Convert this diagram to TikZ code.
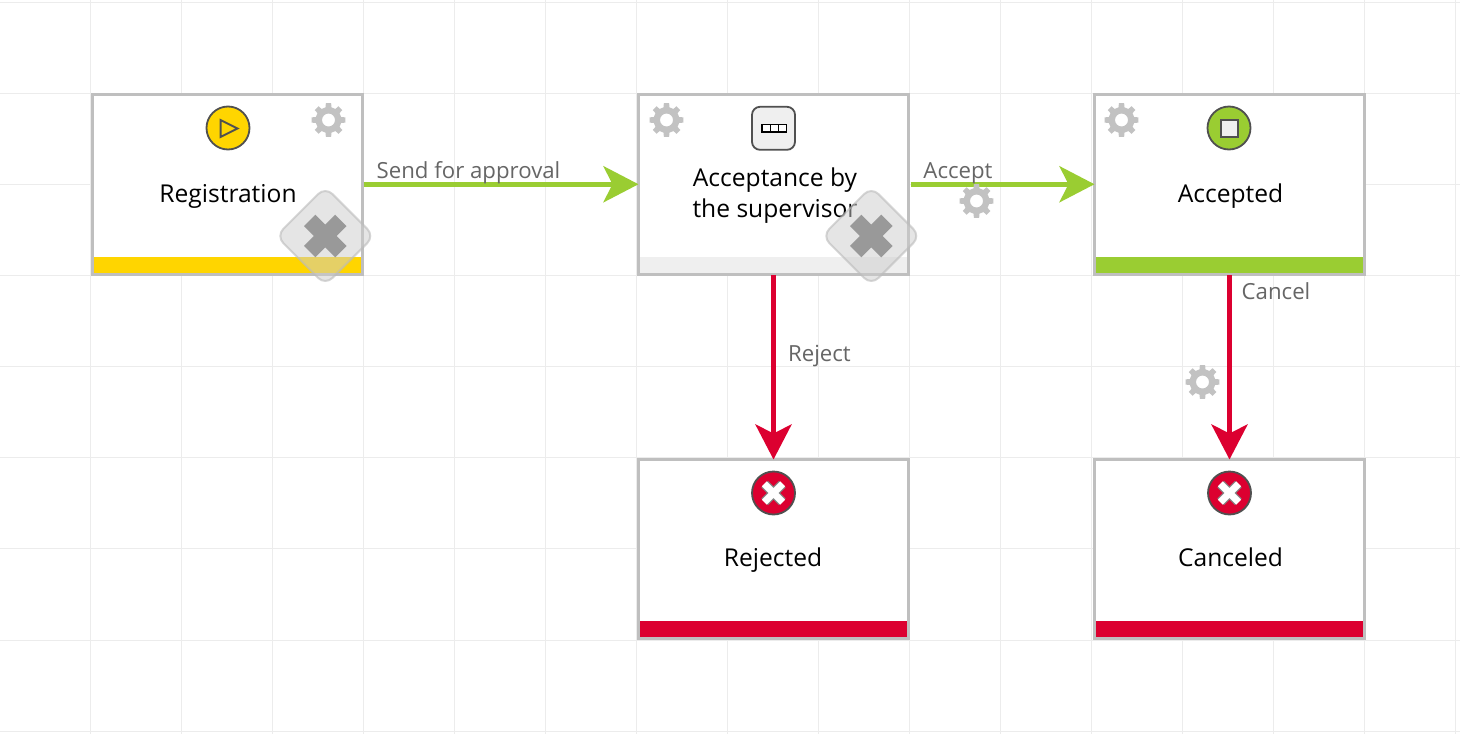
\documentclass[tikz,border=0pt]{standalone}
\usepackage{fontspec}
\setmainfont{Open Sans}
\usetikzlibrary{arrows.meta}
\definecolor{gridc}{HTML}{ECECEC}
\definecolor{borderc}{HTML}{BFBFBF}
\definecolor{gearc}{HTML}{C2C2C2}
\definecolor{iconline}{HTML}{505050}
\definecolor{yel}{HTML}{FFD500}
\definecolor{grn}{HTML}{9ACD32}
\definecolor{rd}{HTML}{DC0030}
\definecolor{lightbar}{HTML}{EFEFEF}
\definecolor{tilefill}{HTML}{CCCCCC}
\definecolor{tileline}{HTML}{BBBBBB}
\definecolor{tilex}{HTML}{999999}
\tikzset{
  x=1pt,y=-1pt,
  taskbox/.style={draw=borderc,fill=white,line width=3pt,minimum width=270pt,minimum height=180pt,outer sep=0pt,inner sep=0pt},
  tasklabel/.style={font=\fontsize{24.6}{31}\selectfont,text=black,align=center,inner sep=0pt,anchor=base},
  edgelabel/.style={font=\fontsize{22.2}{27}\selectfont,text=black!60,inner sep=0pt,anchor=base},
  greenline/.style={draw=grn,line width=5pt,-{Stealth[length=35pt,width=36pt,inset=9pt,fill=grn]}},
  redline/.style={draw=rd,line width=5.3pt,-{Stealth[length=35pt,width=36pt,inset=9pt,fill=rd]}},
  iconcirc/.style={circle,draw=iconline,line width=1.8pt,minimum size=43pt,inner sep=0pt,outer sep=0pt},
  geartile/.pic={
    \fill[gearc,even odd rule] (90-13:13)
      \foreach \a in {0,45,...,315}{
        -- ({90+\a-13}:13) -- ({90+\a-9}:17) -- ({90+\a+9}:17) -- ({90+\a+13}:13)
      } -- cycle (0,0) circle (6.5);
  },
  removetile/.pic={
    \draw[rotate=45,draw=tileline,fill=tilefill,fill opacity=.5,draw opacity=.6,line width=2pt,rounded corners=10pt]
      (-34.7,-34.7) rectangle (34.7,34.7);
    \draw[line width=16pt,draw=tilex] (-15.6,-15.6) -- (15.6,15.6) (-15.6,15.6) -- (15.6,-15.6);
  },
  failx/.pic={
    \draw[line width=9.5pt,draw=iconline!70] (-8.8,-8.8) -- (8.8,8.8) (-8.8,8.8) -- (8.8,-8.8);
    \draw[line width=7pt,draw=white] (-9.2,-9.2) -- (9.2,9.2) (-9.2,9.2) -- (9.2,-9.2);
  }
}
\begin{document}
\begin{tikzpicture}
\useasboundingbox (0,0) rectangle (1460,734);
\fill[white] (0,0) rectangle (1460,734);
% grid
\foreach \i in {0,...,15} \draw[gridc,line width=1pt] ({90.5+91*\i},0) -- ({90.5+91*\i},734);
\foreach \i in {0,...,8} \draw[gridc,line width=1pt] (0,{2.3+91.1*\i}) -- (1460,{2.3+91.1*\i});
% boxes
\node[taskbox] (registration) at (227.5,184.25) {};
\node[taskbox] (acceptance) at (773.5,184.25) {};
\node[taskbox] (accepted) at (1229.5,184.25) {};
\node[taskbox,minimum height=179pt] (rejected) at (773.5,549) {};
\node[taskbox,minimum height=179pt] (canceled) at (1229.5,549) {};
% status bars
\fill[yel] (94,257) rectangle (361,272.7);
\fill[lightbar] (640,257) rectangle (907,272.7);
\fill[grn] (1096,257) rectangle (1363,272.7);
\fill[rd] (640,621) rectangle (907,637);
\fill[rd] (1096,621) rectangle (1363,637);
% connectors
\draw[greenline] ([xshift=1pt]registration.east) -- (acceptance.west);
\draw[greenline] ([xshift=2pt]acceptance.east) -- (accepted.west);
\draw[redline] ([yshift=-1pt]acceptance.south) -- (rejected.north);
\draw[redline] ([yshift=-1pt]accepted.south) -- (canceled.north);
% connector labels
\node[edgelabel] (lsend) at (468.5,178.5) {Send for approval};
\node[edgelabel] (laccept) at (958,178.5) {Accept};
\node[edgelabel] (lreject) at (819.5,361) {Reject};
\node[edgelabel] (lcancel) at (1276,299.5) {Cancel};
% task labels
\node[tasklabel] (tregistration) at (228,202.3) {Registration};
\node[tasklabel] (tacceptance) at (775,217) {Acceptance by\\the supervisor};
\node[tasklabel] (taccepted) at (1230.5,202.3) {Accepted};
\node[tasklabel] (trejected) at (773,566.5) {Rejected};
\node[tasklabel] (tcanceled) at (1230.5,566.5) {Canceled};
% icons
\node[iconcirc,fill=yel] (istart) at (228,128) {};
\draw[draw=iconline,fill=yel,line width=2pt,line join=miter] (220.5,120) -- (237.5,128.5) -- (220.5,137) -- cycle;
\node[iconcirc,fill=lightbar,rectangle,rounded corners=8pt] (iprocess) at (773.5,128.3) {};
\draw[black,fill=white,line width=1.6pt] (762,124.5) rectangle (786.5,132);
\draw[black,line width=1.4pt] (770.2,124.5) -- (770.2,132) (778.4,124.5) -- (778.4,132);
\node[iconcirc,fill=grn] (istop) at (1229,128) {};
\draw[draw=iconline,fill=black!6,line width=2pt] (1220.5,119.5) rectangle (1237.5,136.5);
\node[iconcirc,fill=rd] (irej) at (773.5,493) {};
\pic at (773.5,493) {failx};
\node[iconcirc,fill=rd] (ican) at (1229.5,493) {};
\pic at (1229.5,493) {failx};
% gears
\pic at (328.5,120) {geartile};
\pic at (666.5,120) {geartile};
\pic at (1121.5,120) {geartile};
\pic at (976.5,201) {geartile};
\pic at (1202.5,382) {geartile};
% remove tiles
\pic at (325.3,236) {removetile};
\pic at (871.3,236) {removetile};
\end{tikzpicture}
\end{document}
